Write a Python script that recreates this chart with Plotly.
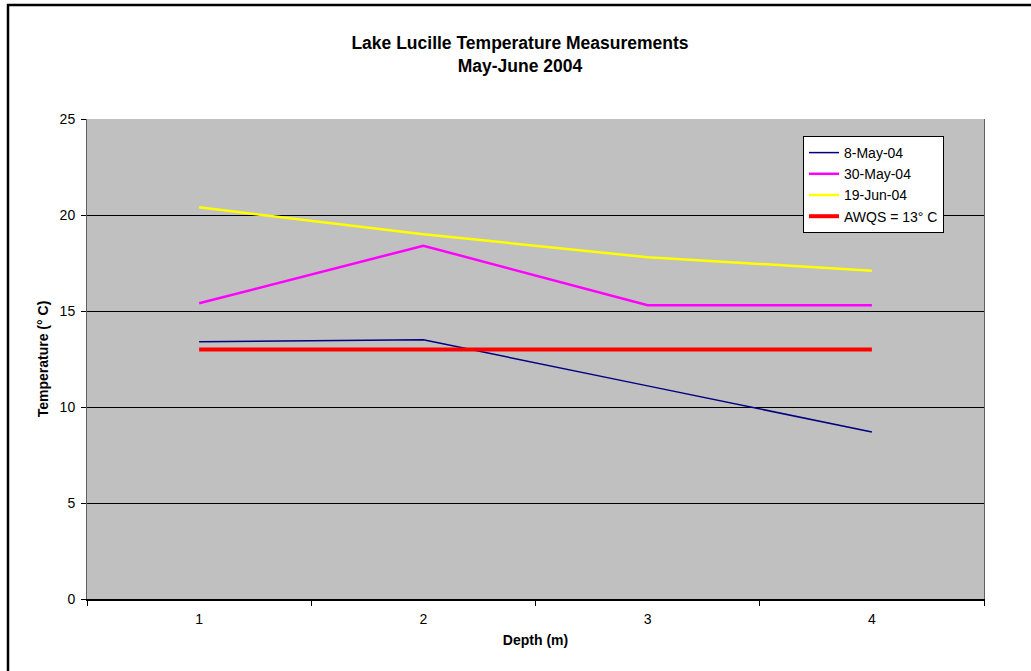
import plotly.graph_objects as go

depths = ["1", "2", "3", "4"]
may8 = [13.4, 13.5, 11.1, 8.7]
may30 = [15.4, 18.4, 15.3, 15.3]
jun19 = [20.4, 19.0, 17.8, 17.1]
awqs = [13, 13, 13, 13]

series = [
    ("8-May-04", may8, "#000080", 1.5),
    ("30-May-04", may30, "#FF00FF", 2.5),
    ("19-Jun-04", jun19, "#FFFF00", 2.5),
    ("AWQS = 13° C", awqs, "#FF0000", 4),
]

fig = go.Figure()
for name, vals, color, w in series:
    fig.add_trace(go.Scatter(x=depths, y=vals, mode="lines", name=name,
                             line=dict(color=color, width=w)))

font = "Arial, Liberation Sans, sans-serif"
fig.update_layout(
    width=1031, height=671,
    margin=dict(l=87, r=47, t=119, b=72),
    paper_bgcolor="white",
    plot_bgcolor="#C0C0C0",
    font=dict(family=font, size=14, color="black"),
    title=dict(text="<b>Lake Lucille Temperature Measurements<br>May-June 2004</b>",
               x=520/1031, xanchor="center", y=1-49/671, yanchor="top",
               font=dict(size=17.5, family=font)),
    showlegend=True,
    legend=dict(x=(803-87)/897, y=(599-136)/480, xanchor="left", yanchor="top",
                bgcolor="white", bordercolor="black", borderwidth=1,
                font=dict(size=14, family=font), tracegroupgap=0,
                itemwidth=30),
    xaxis=dict(type="category", tickson="boundaries", ticks="outside",
               range=[-0.5, 3.5],
               ticklen=5, tickcolor="black", showgrid=False,
               showline=True, linecolor="black", linewidth=1.5,
               ticklabelstandoff=6,
               title=dict(text="<b>Depth (m)</b>", font=dict(size=14), standoff=10),
               tickfont=dict(size=14)),
    yaxis=dict(range=[0, 25], tickvals=[0, 5, 10, 15, 20, 25], ticks="outside",
               ticklen=5, tickcolor="black", showgrid=True, gridcolor="black",
               gridwidth=1, zeroline=False, showline=True, linecolor="#606060",
               mirror=True, ticklabelstandoff=3,
               title=dict(text="<b>Temperature (° C)</b>", font=dict(size=14), standoff=7),
               tickfont=dict(size=14)),
    shapes=[dict(type="rect", xref="paper", yref="paper",
                 x0=(8-87)/897, x1=1.1, y0=-0.3, y1=(599-5)/480,
                 line=dict(color="black", width=2.5), fillcolor="rgba(0,0,0,0)",
                 layer="below")],
)

fig.write_html("out.html", config={"displayModeBar": False},
               post_script="document.body.style.margin='0';document.body.style.overflow='hidden';")
